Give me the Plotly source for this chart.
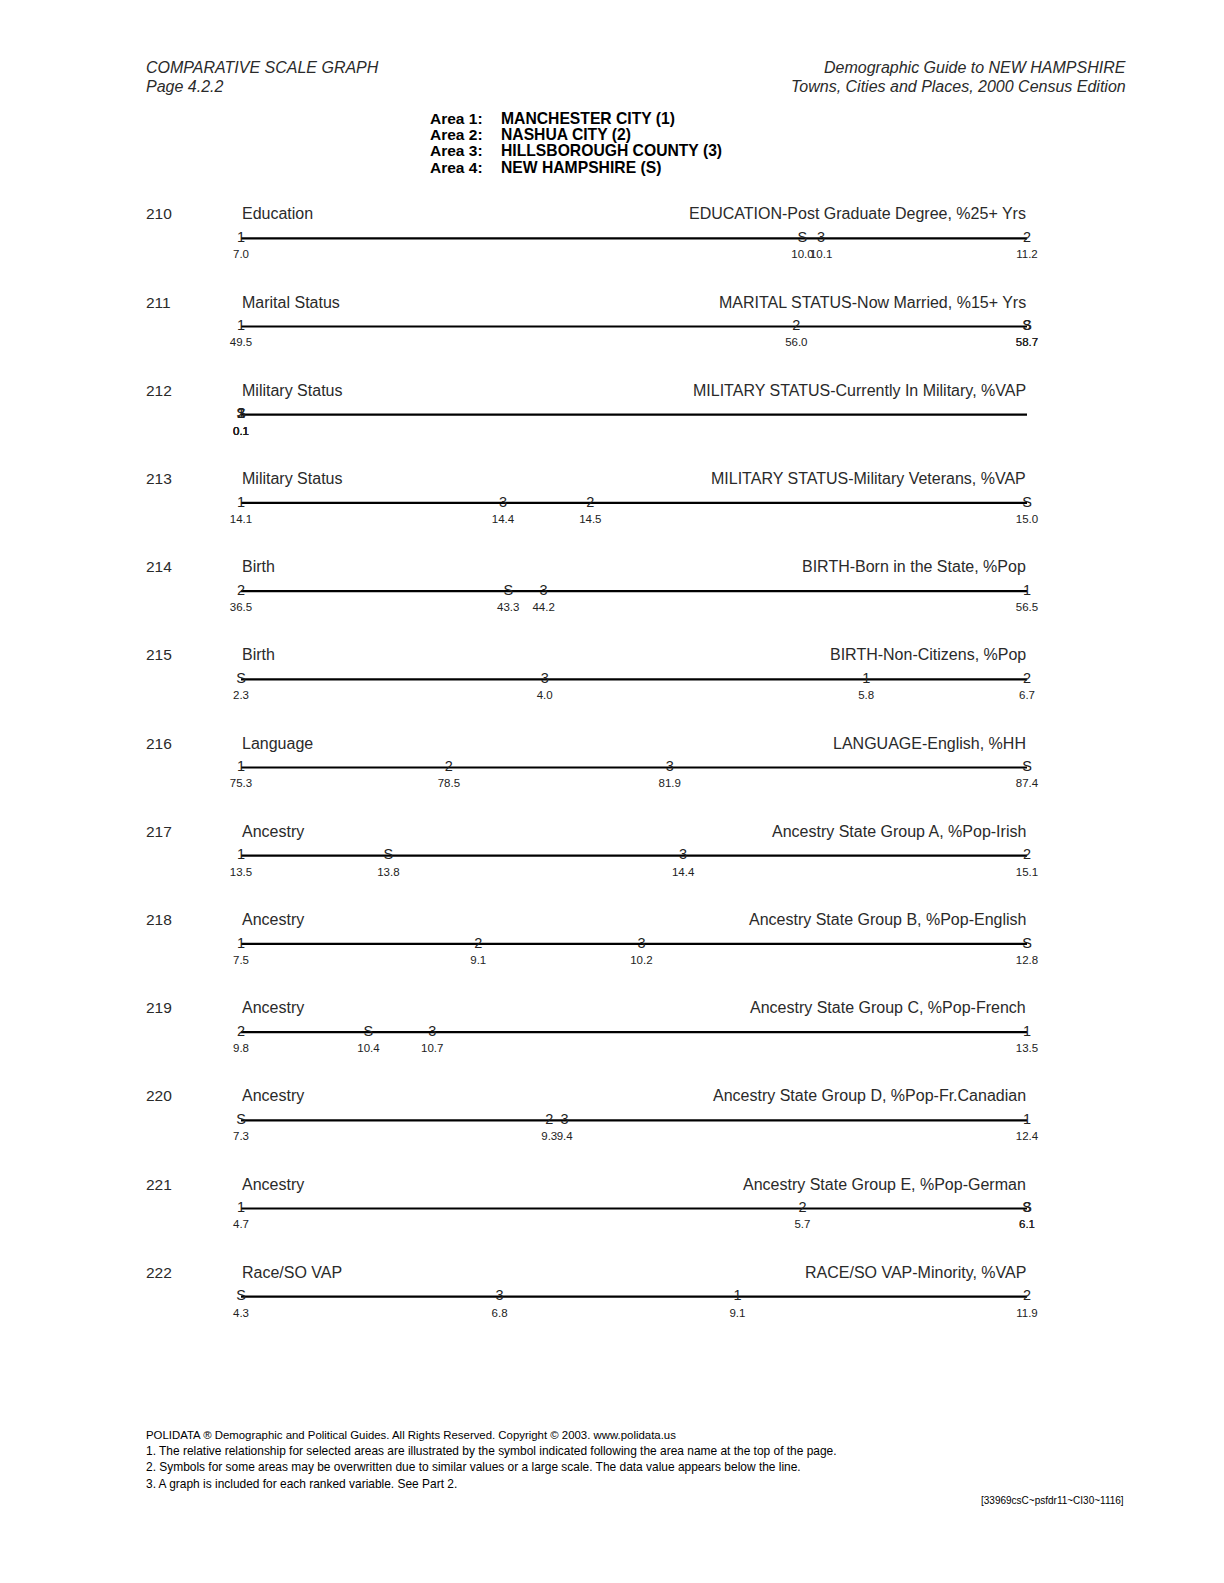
import plotly.graph_objects as go

# ---------------- data ----------------
area_labels = ["Area 1:", "Area 2:", "Area 3:", "Area 4:"]
area_names = ["MANCHESTER CITY (1)", "NASHUA CITY (2)", "HILLSBOROUGH COUNTY (3)", "NEW HAMPSHIRE (S)"]
symbols = ["1", "2", "3", "S"]

row_ids = [210, 211, 212, 213, 214, 215, 216, 217, 218, 219, 220, 221, 222]
row_groups = ["Education", "Marital Status", "Military Status", "Military Status", "Birth", "Birth",
              "Language", "Ancestry", "Ancestry", "Ancestry", "Ancestry", "Ancestry", "Race/SO VAP"]
row_titles = [
    "EDUCATION-Post Graduate Degree, %25+ Yrs",
    "MARITAL STATUS-Now Married, %15+ Yrs",
    "MILITARY STATUS-Currently In Military, %VAP",
    "MILITARY STATUS-Military Veterans, %VAP",
    "BIRTH-Born in the State, %Pop",
    "BIRTH-Non-Citizens, %Pop",
    "LANGUAGE-English, %HH",
    "Ancestry State Group A, %Pop-Irish",
    "Ancestry State Group B, %Pop-English",
    "Ancestry State Group C, %Pop-French",
    "Ancestry State Group D, %Pop-Fr.Canadian",
    "Ancestry State Group E, %Pop-German",
    "RACE/SO VAP-Minority, %VAP",
]
# values for areas 1, 2, 3, S
area1 = [7.0, 49.5, 0.1, 14.1, 56.5, 5.8, 75.3, 13.5, 7.5, 13.5, 12.4, 4.7, 9.1]
area2 = [11.2, 56.0, 0.1, 14.5, 36.5, 6.7, 78.5, 15.1, 9.1, 9.8, 9.3, 5.7, 11.9]
area3 = [10.1, 58.7, 0.1, 14.4, 44.2, 4.0, 81.9, 14.4, 10.2, 10.7, 9.4, 6.1, 6.8]
areaS = [10.0, 58.7, 0.1, 15.0, 43.3, 2.3, 87.4, 13.8, 12.8, 10.4, 7.3, 6.1, 4.3]

header_left = ["COMPARATIVE SCALE GRAPH", "Page 4.2.2"]
header_right = ["Demographic Guide to NEW HAMPSHIRE", "Towns, Cities and Places, 2000 Census Edition"]
footer_lines = [
    "POLIDATA \u00ae Demographic and Political Guides. All Rights Reserved. Copyright \u00a9 2003. www.polidata.us",
    "1. The relative relationship for selected areas are illustrated by the symbol indicated following the area name at the top of the page.",
    "2. Symbols for some areas may be overwritten due to similar values or a large scale. The data value appears below the line.",
    "3. A graph is included for each ranked variable. See Part 2.",
]
footer_id = "[33969csC~psfdr11~CI30~1116]"

# ---------------- layout helpers ----------------
FONT = "Liberation Sans, Arial, Helvetica, sans-serif"
NARROW = "Liberation Sans Narrow, Liberation Sans, Arial, sans-serif"
OFF = 8  # page body margin
W, H = 1208, 1567
X0, X1 = 241, 1027
ROW_TOP, ROW_STEP = 238.3, 88.2
BAND = 30
TXT = "#2a2a2a"


def px(x):
    return (x - OFF) / W


def py(y):
    return 1 - (y - OFF) / H


fig = go.Figure()
annotations = []
shapes = []
layout_axes = {}

series = [area1, area2, area3, areaS]

for i, rid in enumerate(row_ids):
    k = i + 1
    xa = "x" if k == 1 else f"x{k}"
    ya = "y" if k == 1 else f"y{k}"
    xkey = "xaxis" if k == 1 else f"xaxis{k}"
    ykey = "yaxis" if k == 1 else f"yaxis{k}"
    cy = ROW_TOP + ROW_STEP * i
    vals = [s[i] for s in series]
    lo, hi = min(vals), max(vals)
    if hi == lo:
        hi = lo + 1
    layout_axes[xkey] = dict(domain=[px(X0), px(X1)], range=[lo, hi], anchor=ya,
                             visible=False, fixedrange=True)
    layout_axes[ykey] = dict(domain=[py(cy + BAND), py(cy - BAND)], range=[-1, 1], anchor=xa,
                             visible=False, fixedrange=True)
    # scale line
    shapes.append(dict(type="line", xref=f"{xa} domain", yref=ya, x0=0, x1=1, y0=0, y1=0,
                       line=dict(color="black", width=2.2), layer="below"))
    # symbols on the line
    fig.add_trace(go.Scatter(x=vals, y=[0] * 4, mode="text", text=symbols, xaxis=xa, yaxis=ya,
                             textfont=dict(family=FONT, size=14.5, color="#222"),
                             textposition="middle center", cliponaxis=False, hoverinfo="skip",
                             showlegend=False))
    # value labels below the line
    fig.add_trace(go.Scatter(x=vals, y=[-0.57] * 4, mode="text", text=[f"{v:.1f}" for v in vals],
                             xaxis=xa, yaxis=ya,
                             textfont=dict(family=NARROW, size=11.5, color="#222"),
                             textposition="middle center", cliponaxis=False, hoverinfo="skip",
                             showlegend=False))
    # row texts
    annotations.append(dict(x=px(144), y=py(cy - 24.5), xref="paper", yref="paper", text=str(rid),
                            showarrow=False, xanchor="left", yanchor="middle",
                            font=dict(family=FONT, size=15.5, color=TXT)))
    annotations.append(dict(x=px(240), y=py(cy - 24.5), xref="paper", yref="paper", text=row_groups[i],
                            showarrow=False, xanchor="left", yanchor="middle",
                            font=dict(family=FONT, size=16, color=TXT)))
    annotations.append(dict(x=px(1028), y=py(cy - 24.5), xref="paper", yref="paper", text=row_titles[i],
                            showarrow=False, xanchor="right", yanchor="middle",
                            font=dict(family=FONT, size=16, color=TXT)))

# header
for j, t in enumerate(header_left):
    annotations.append(dict(x=px(144), y=py(67 + 20 * j), xref="paper", yref="paper",
                            text=f"<i>{t}</i>", showarrow=False, xanchor="left", yanchor="middle",
                            font=dict(family=FONT, size=16, color=TXT)))
for j, t in enumerate(header_right):
    annotations.append(dict(x=px(1128), y=py(67 + 20 * j), xref="paper", yref="paper",
                            text=f"<i>{t}</i>", showarrow=False, xanchor="right", yanchor="middle",
                            font=dict(family=FONT, size=16, color=TXT)))
for j, (a, n) in enumerate(zip(area_labels, area_names)):
    yy = py(118.5 + 16.2 * j)
    annotations.append(dict(x=px(428), y=yy, xref="paper", yref="paper", text=f"<b>{a}</b>",
                            showarrow=False, xanchor="left", yanchor="middle",
                            font=dict(family=FONT, size=15.5, color="black")))
    annotations.append(dict(x=px(499), y=yy, xref="paper", yref="paper", text=f"<b>{n}</b>",
                            showarrow=False, xanchor="left", yanchor="middle",
                            font=dict(family=FONT, size=15.7, color="black")))

# footer
footer_sizes = [11.4, 11.95, 11.95, 11.95]
for j, t in enumerate(footer_lines):
    annotations.append(dict(x=px(144), y=py(1435 + 16.2 * j), xref="paper", yref="paper", text=t,
                            showarrow=False, xanchor="left", yanchor="middle",
                            font=dict(family=NARROW, size=footer_sizes[j], color="black")))
annotations.append(dict(x=px(1126), y=py(1500), xref="paper", yref="paper", text=footer_id,
                        showarrow=False, xanchor="right", yanchor="middle",
                        font=dict(family=NARROW, size=10, color="black")))

fig.update_layout(width=W, height=H, margin=dict(l=0, r=0, t=0, b=0, pad=0),
                  paper_bgcolor="white", plot_bgcolor="rgba(0,0,0,0)",
                  showlegend=False, annotations=annotations, shapes=shapes, **layout_axes)

fig.write_html("out.html", config={"displayModeBar": False})
